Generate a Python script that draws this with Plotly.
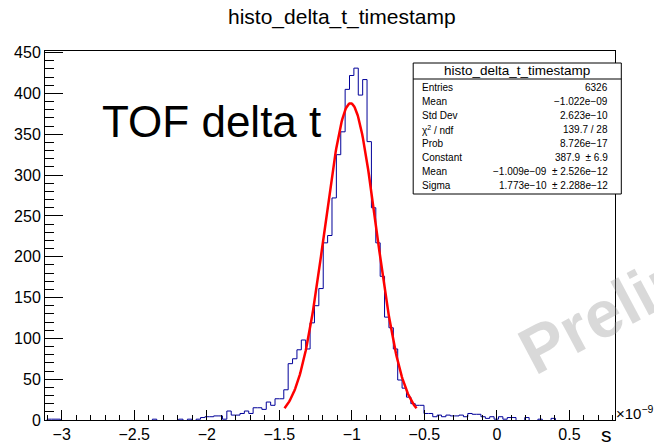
import numpy as np
import plotly.graph_objects as go

# ---------------- data (x in units of 1e-9 s) ----------------
bin_start = -3.130
bin_width = 0.0302
counts = [
    0, 1, 1, 1, 0, 0, 0, 0, 0, 0, 0, 0, 0, 0, 0, 0, 0, 0, 0, 0, 0, 0, 0, 0, 0,
    1, 0, 0, 0, 0, 0, 1, 0, 1, 0, 1,
    3, 4, 4, 5, 5, 1, 11, 6, 6, 8, 11, 8, 15, 15, 13, 22, 18, 26, 26, 37,
    69, 75, 86, 98, 87, 119, 140, 161, 217, 226, 272, 325, 353,
    405, 422, 431, 398, 417, 341, 260, 217, 176, 126,
    113, 87, 49, 39, 28, 20, 18, 18, 8, 8,
    4, 6, 4, 6, 5, 5, 6, 4, 8, 7,
    7, 4, 2, 4, 1, 4, 1, 3, 3, 0,
    0, 3, 0, 0, 1, 0, 0, 2, 0, 0,
    0, 0, 0, 0, 0, 0, 0, 0, 0, 0, 0,
]

fit_constant = 387.9
fit_mean = -1.009
fit_sigma = 0.1773
fit_lo, fit_hi = -1.464, -0.554

x_range = [-3.115, 0.814]
y_range = [0, 452]

title_text = "histo_delta_t_timestamp"
big_label = "TOF delta t"
watermark = "Preliminary"
stats_title = "histo_delta_t_timestamp"
stats_labels = ["Entries", "Mean", "Std Dev", "\u03c7<sup>2</sup> / ndf", "Prob",
                "Constant", "Mean", "Sigma"]
stats_values = ["6326", "\u22121.022e\u221209", "2.623e\u221210", "139.7 / 28",
                "8.726e\u221217", "387.9  \u00b1 6.9",
                "\u22121.009e\u221209  \u00b1 2.526e\u221212",
                "1.773e\u221210  \u00b1 2.288e\u221212"]

# ---------------- geometry helpers ----------------
W, H = 654, 446
L, R, T, B = 45, 614.7, 51, 420


def px(xp):
    return (xp - L) / (R - L)


def py(yp):
    return (B - yp) / (B - T)


# ---------------- histogram outline (segments; empty stretches hidden by the axis) ----------------
n = len(counts)
edges = bin_start + bin_width * np.arange(n + 1)
hx, hy = [], []
prev = 0
for i in range(n):
    c = counts[i]
    left, right = edges[i], edges[i + 1]
    if not (prev == 0 and c == 0):
        hx += [left, left, None]
        hy += [prev, c, None]
    if c != 0:
        hx += [left, right, None]
        hy += [c, c, None]
    prev = c
if prev != 0:
    hx += [edges[-1], edges[-1], None]
    hy += [prev, 0, None]

fx = np.linspace(fit_lo, fit_hi, 200)
fy = fit_constant * np.exp(-0.5 * ((fx - fit_mean) / fit_sigma) ** 2)

fig = go.Figure()
fig.add_trace(go.Scatter(x=hx, y=hy, mode="lines", line=dict(color="#000099", width=1),
                         connectgaps=False, hoverinfo="skip", showlegend=False))
fig.add_trace(go.Scatter(x=fx, y=fy, mode="lines", line=dict(color="#ff0000", width=2.5),
                         hoverinfo="skip", showlegend=False))

font_main = "Liberation Sans, Arial, Helvetica, sans-serif"

fig.update_layout(
    width=W, height=H,
    margin=dict(l=L, r=W - R, t=T, b=H - B, autoexpand=False),
    paper_bgcolor="white", plot_bgcolor="white",
    showlegend=False,
    font=dict(family=font_main, color="black"),
    xaxis=dict(range=x_range, showgrid=False, zeroline=False, showline=True, linecolor="black",
               linewidth=1, mirror=True, ticks="inside", ticklen=10, tickcolor="black",
               automargin=False, tick0=0, dtick=0.5, tickfont=dict(size=16, family=font_main),
               minor=dict(ticks="inside", ticklen=5, tickcolor="black", tick0=0, dtick=0.1)),
    yaxis=dict(range=y_range, showgrid=False, zeroline=False, showline=True, linecolor="black",
               linewidth=1, mirror=True, ticks="inside", ticklen=18, tickcolor="black",
               automargin=False, tick0=0, dtick=50, tickfont=dict(size=16, family=font_main),
               minor=dict(ticks="inside", ticklen=9, tickcolor="black", tick0=0, dtick=10)),
)

ann = []
# title
ann.append(dict(x=px(342), y=py(17), xref="paper", yref="paper", text=title_text, showarrow=False,
                font=dict(size=21, family=font_main), xanchor="center", yanchor="middle"))
# big label
ann.append(dict(x=px(100), y=py(121), xref="paper", yref="paper", text=big_label, showarrow=False,
                font=dict(size=44, family="Liberation Sans, Arial, sans-serif"),
                xanchor="left", yanchor="middle"))
# axis unit labels
ann.append(dict(x=px(615), y=py(412), xref="paper", yref="paper",
                text="\u00d710<sup>\u22129</sup>", showarrow=False, borderpad=0,
                font=dict(size=15, family=font_main), xanchor="left", yanchor="middle"))
ann.append(dict(x=px(606), y=py(434), xref="paper", yref="paper", text="s", showarrow=False,
                borderpad=0, font=dict(size=21, family=font_main), xanchor="center", yanchor="middle"))
# watermark
ann.append(dict(x=px(683), y=py(271), xref="paper", yref="paper", text="<b>%s</b>" % watermark,
                showarrow=False, textangle=-28,
                font=dict(size=66, family=font_main, color="rgba(150,150,150,0.36)"),
                xanchor="center", yanchor="middle"))

# stats box
bx0, bx1, by0, by1 = 413, 621, 63, 194
head_bot = 79
shapes = [
    dict(type="rect", xref="paper", yref="paper", x0=px(bx0), x1=px(bx1), y0=py(by1), y1=py(by0),
         line=dict(color="black", width=1), fillcolor="white", layer="above"),
    dict(type="line", xref="paper", yref="paper", x0=px(bx0), x1=px(bx1), y0=py(head_bot), y1=py(head_bot),
         line=dict(color="black", width=1), layer="above"),
]
ann.append(dict(x=px((bx0 + bx1) / 2), y=py(71), xref="paper", yref="paper", text=stats_title,
                showarrow=False, font=dict(size=13.5, family=font_main), xanchor="center", yanchor="middle"))
row0, dy = 87.5, 14.0
for i, (lab, val) in enumerate(zip(stats_labels, stats_values)):
    yy = row0 + i * dy
    ann.append(dict(x=px(420), y=py(yy), xref="paper", yref="paper", text=lab, showarrow=False,
                    font=dict(size=10, family=font_main), xanchor="left", yanchor="middle"))
    ann.append(dict(x=px(610), y=py(yy), xref="paper", yref="paper", text=val, showarrow=False,
                    font=dict(size=10, family=font_main), xanchor="right", yanchor="middle"))

fig.update_layout(annotations=ann, shapes=shapes)
fig.write_html("out.html", config={"displayModeBar": False},
               post_script="document.body.style.margin='0px';document.body.style.overflow='hidden';")
